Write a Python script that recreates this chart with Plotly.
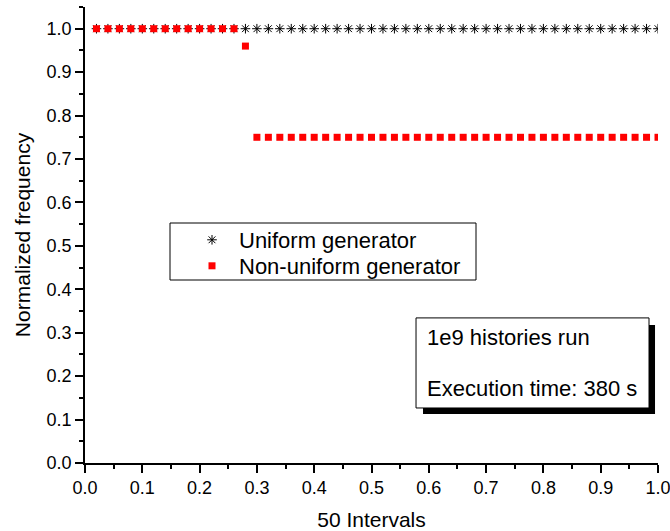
import plotly.graph_objects as go

# 50 interval positions on [0, 1]
intervals = [round(0.02 * (i + 1), 2) for i in range(50)]

# Normalized frequency per interval
uniform_freq = [1.0] * 50
nonuniform_freq = [1.0] * 13 + [0.96] + [0.75] * 36

FONT = "Liberation Sans, Arial, sans-serif"

fig = go.Figure()

fig.add_trace(go.Scatter(
    x=intervals, y=uniform_freq, mode="markers", name="Uniform generator",
    legend="legend",
    marker=dict(symbol="asterisk-open", size=8, color="black",
                line=dict(color="black", width=1)),
))
fig.add_trace(go.Scatter(
    x=intervals, y=nonuniform_freq, mode="markers", name="Non-uniform generator",
    legend="legend2",
    marker=dict(symbol="square", size=7, color="red", line=dict(width=0)),
))

# Legend frame
fig.add_shape(type="rect", xref="paper", yref="paper",
              x0=(170 - 85) / 573, x1=(476 - 85) / 573,
              y0=(463 - 280) / 456, y1=(463 - 223) / 456,
              fillcolor="white", line=dict(color="black", width=1), layer="below")

# Info box with drop shadow
fig.add_shape(type="rect", xref="x", yref="y", x0=0.5899, x1=0.9948, y0=0.1129, y1=0.318,
              fillcolor="black", line=dict(width=0), layer="above")
fig.add_shape(type="rect", xref="x", yref="y", x0=0.5777, x1=0.9843, y0=0.1267, y1=0.3341,
              fillcolor="white", line=dict(color="black", width=1), layer="above")
fig.add_annotation(x=0.5935, y=0.290, xref="x", yref="y", text="1e9 histories run",
                   showarrow=False, xanchor="left", yanchor="middle",
                   font=dict(family=FONT, size=22, color="black"))
fig.add_annotation(x=0.5935, y=0.1705, xref="x", yref="y", text="Execution time: 380 s",
                   showarrow=False, xanchor="left", yanchor="middle",
                   font=dict(family=FONT, size=22, color="black"))

axis_common = dict(
    showline=True, linecolor="black", linewidth=1.5, mirror=False,
    showgrid=False, zeroline=False, ticks="outside", ticklen=8, tickwidth=1.5,
    tickcolor="black", tickformat=".1f", dtick=0.1, automargin=False,
    ticklabeloverflow="allow",
    tickfont=dict(family=FONT, size=18, color="black"),
    minor=dict(ticks="outside", ticklen=4, tickwidth=1.5, tickcolor="black", dtick=0.05),
)

legend_common = dict(
    xanchor="left", yanchor="middle", borderwidth=0, bgcolor="rgba(0,0,0,0)",
    font=dict(family=FONT, size=22, color="black"), itemwidth=44,
)

fig.update_layout(
    width=670, height=531,
    margin=dict(l=85, r=12, t=7, b=68),
    paper_bgcolor="white", plot_bgcolor="white",
    font=dict(family=FONT, color="black"),
    xaxis=dict(range=[0, 1.0], tick0=0, title=dict(text="50 Intervals", standoff=15,
               font=dict(family=FONT, size=21)), ticklabelstandoff=0, **axis_common),
    yaxis=dict(range=[0, 1.05], tick0=0, title=dict(text="Normalized frequency", standoff=10,
               font=dict(family=FONT, size=21)), **axis_common),
    legend=dict(x=(185 - 85) / 573, y=(463 - 240) / 456, **legend_common),
    legend2=dict(x=(185 - 85) / 573, y=(463 - 266) / 456, **legend_common),
    showlegend=True,
)

fig.write_html("out.html")
